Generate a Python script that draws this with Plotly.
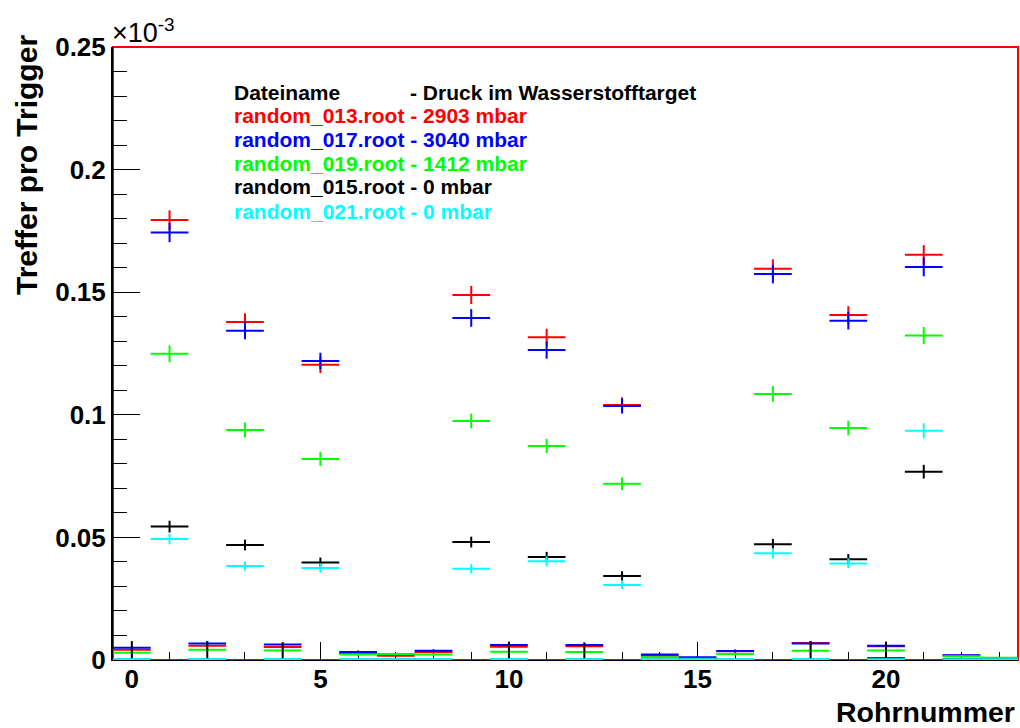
import plotly.graph_objects as go

# Tube number (bin centres) for all five runs
tubes = list(range(24))

# Hits per trigger, in units of 1e-3
red_vals = [0.0042, 0.1794, 0.0058, 0.1378, 0.0053, 0.1204, 0.0028, 0.0017,
            0.0033, 0.1489, 0.0054, 0.1316, 0.0056, 0.1040, 0.0017, 0.0008,
            0.0036, 0.1596, 0.0069, 0.1407, 0.0056, 0.1653, 0.0018, 0.0004]
blue_vals = [0.0050, 0.1743, 0.0067, 0.1343, 0.0063, 0.1219, 0.0033, 0.0024,
             0.0038, 0.1395, 0.0061, 0.1264, 0.0061, 0.1036, 0.0022, 0.0011,
             0.0037, 0.1574, 0.0067, 0.1384, 0.0058, 0.1603, 0.0019, 0.0003]
green_vals = [0.0030, 0.1249, 0.0042, 0.0938, 0.0039, 0.0820, 0.0022, 0.0024,
              0.0022, 0.0975, 0.0034, 0.0873, 0.0033, 0.0719, 0.0011, 0.0005,
              0.0024, 0.1085, 0.0038, 0.0946, 0.0039, 0.1323, 0.0015, 0.0009]
black_vals = [0.0002, 0.0544, 0.0002, 0.0469, 0.0002, 0.0398, 0.0002, 0.0002,
              0.0002, 0.0481, 0.0002, 0.0420, 0.0002, 0.0343, 0.0002, 0.0002,
              0.0002, 0.0472, 0.0002, 0.0411, 0.0007, 0.0768, 0.0004, 0.0002]
cyan_vals = [0.0003, 0.0493, 0.0003, 0.0383, 0.0003, 0.0375, 0.0003, 0.0003,
             0.0003, 0.0372, 0.0003, 0.0403, 0.0003, 0.0306, 0.0003, 0.0003,
             0.0003, 0.0435, 0.0003, 0.0394, 0.0003, 0.0935, 0.0003, 0.0003]

# Statistical errors (same units)
red_errs = [0.0007, 0.0040, 0.0008, 0.0036, 0.0007, 0.0034, 0.0005, 0.0004,
            0.0006, 0.0037, 0.0007, 0.0035, 0.0007, 0.0031, 0.0004, 0.0003,
            0.0006, 0.0038, 0.0008, 0.0036, 0.0007, 0.0039, 0.0004, 0.0002]
blue_errs = [0.0007, 0.0039, 0.0008, 0.0035, 0.0008, 0.0034, 0.0006, 0.0005,
             0.0006, 0.0036, 0.0008, 0.0035, 0.0008, 0.0031, 0.0005, 0.0003,
             0.0006, 0.0038, 0.0008, 0.0036, 0.0008, 0.0038, 0.0004, 0.0002]
green_errs = [0.0005, 0.0034, 0.0006, 0.0030, 0.0006, 0.0028, 0.0004, 0.0005,
              0.0004, 0.0030, 0.0005, 0.0029, 0.0005, 0.0026, 0.0003, 0.0002,
              0.0005, 0.0032, 0.0006, 0.0030, 0.0006, 0.0035, 0.0004, 0.0003]
black_errs = [0.0075, 0.0024, 0.0075, 0.0022, 0.0070, 0.0020, 0.0000, 0.0000,
              0.0000, 0.0022, 0.0073, 0.0021, 0.0070, 0.0019, 0.0000, 0.0000,
              0.0000, 0.0022, 0.0075, 0.0021, 0.0068, 0.0028, 0.0000, 0.0000]
cyan_errs = [0.0000, 0.0021, 0.0000, 0.0019, 0.0000, 0.0019, 0.0000, 0.0000,
             0.0000, 0.0019, 0.0000, 0.0020, 0.0000, 0.0017, 0.0000, 0.0000,
             0.0000, 0.0021, 0.0000, 0.0020, 0.0000, 0.0031, 0.0000, 0.0000]

series_names = ["random_013.root - 2903 mbar", "random_017.root - 3040 mbar",
                "random_019.root - 1412 mbar", "random_015.root - 0 mbar",
                "random_021.root - 0 mbar"]
series_colors = ["#ff0000", "#0000ff", "#00ff00", "#000000", "#00ffff"]
series_vals = [red_vals, blue_vals, green_vals, black_vals, cyan_vals]
series_errs = [red_errs, blue_errs, green_errs, black_errs, cyan_errs]

y_tickvals = [0, 0.05, 0.1, 0.15, 0.2, 0.25]
y_ticktext = ["0", "0.05", "0.1", "0.15", "0.2", "0.25"]
x_tickvals = [0, 5, 10, 15, 20]
x_ticktext = ["0", "5", "10", "15", "20"]

W, H = 1020, 728
L, R, T, B = 113, 2, 47, 68
PW, PH = W - L - R, H - T - B


def px_x(p):
    return (p - L) / PW


def px_y(p):
    return (H - B - p) / PH


fig = go.Figure()
for name, col, vals, errs in zip(series_names, series_colors, series_vals, series_errs):
    fig.add_trace(go.Scatter(
        x=tubes, y=vals, mode="markers", name=name, showlegend=False,
        marker=dict(size=0, color=col, opacity=0),
        error_x=dict(type="constant", value=0.5, color=col, thickness=2, width=0),
        error_y=dict(type="data", array=errs,
                     arrayminus=[min(e, v) for e, v in zip(errs, vals)],
                     color=col, thickness=2, width=0),
    ))

font_main = "Liberation Sans, Arial, Helvetica, sans-serif"

fig.update_layout(
    width=W, height=H,
    margin=dict(l=L, r=R, t=T, b=B),
    paper_bgcolor="white", plot_bgcolor="white",
    xaxis=dict(
        range=[-0.5, 23.5], tickvals=x_tickvals, ticktext=x_ticktext,
        ticks="inside", ticklen=18, tickwidth=1, tickcolor="black",
        minor=dict(dtick=1, tick0=0, ticks="inside", ticklen=8, tickwidth=1, tickcolor="black"),
        showgrid=False, zeroline=False, showline=True, linecolor="black", linewidth=1,
        tickfont=dict(family=font_main, size=26, color="black", weight="bold"),
        ticklabelstandoff=-4, layer="below traces",
    ),
    yaxis=dict(
        range=[0, 0.25], tickvals=y_tickvals, ticktext=y_ticktext,
        ticks="inside", ticklen=27, tickwidth=1, tickcolor="black",
        minor=dict(dtick=0.01, tick0=0, ticks="inside", ticklen=14, tickwidth=1, tickcolor="black"),
        showgrid=False, zeroline=False, showline=True, linecolor="black", linewidth=2,
        tickfont=dict(family=font_main, size=26, color="black", weight="bold"),
        ticklabelstandoff=0, layer="below traces",
    ),
    shapes=[dict(type="rect", xref="paper", yref="paper", x0=0, y0=0, x1=1, y1=1,
                 line=dict(color="#ff0000", width=2), fillcolor="rgba(0,0,0,0)",
                 layer="below")],
)

annotations = [
    dict(text="Treffer pro Trigger", x=px_x(26), y=px_y(33), xanchor="center", yanchor="top",
         textangle=-90, font=dict(family=font_main, size=30, color="black", weight="bold")),
    dict(text="Rohrnummer", x=px_x(1017), y=px_y(712), xanchor="right", yanchor="middle",
         font=dict(family=font_main, size=28.5, color="black", weight="bold")),
    dict(text="×10<sup>-3</sup>", x=px_x(110), y=px_y(50), xanchor="left", yanchor="bottom",
         font=dict(family=font_main, size=27, color="black")),
    dict(text="Dateiname", x=px_x(232), y=px_y(92), xanchor="left", yanchor="middle",
         font=dict(family=font_main, size=21, color="black", weight="bold")),
    dict(text="- Druck im Wasserstofftarget", x=px_x(408), y=px_y(92), xanchor="left",
         yanchor="middle", font=dict(family=font_main, size=21, color="black", weight="bold")),
]
legend_rows = [116, 139, 163, 187, 212]
for name, col, row in zip(series_names, series_colors, legend_rows):
    annotations.append(dict(text=name, x=px_x(232), y=px_y(row), xanchor="left", yanchor="middle",
                            font=dict(family=font_main, size=21, color=col, weight="bold")))
for a in annotations:
    a.update(xref="paper", yref="paper", showarrow=False)
fig.update_layout(annotations=annotations)

fig.write_html("out.html")
